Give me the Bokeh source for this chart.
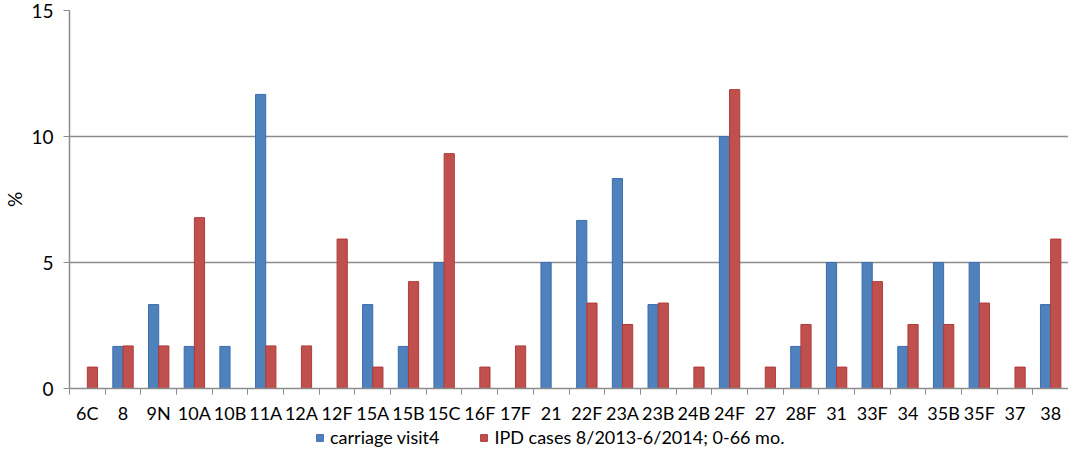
from bokeh.plotting import figure
from bokeh.layouts import column
from bokeh.models import ColumnDataSource, FixedTicker, Legend, LegendItem, Range1d
from bokeh.embed import file_html
from bokeh.resources import INLINE

categories = ["6C", "8", "9N", "10A", "10B", "11A", "12A", "12F", "15A", "15B", "15C",
              "16F", "17F", "21", "22F", "23A", "23B", "24B", "24F", "27", "28F", "31",
              "33F", "34", "35B", "35F", "37", "38"]
carriage = [0, 1.67, 3.33, 1.67, 1.67, 11.67, 0, 0, 3.33, 1.67, 5.0,
            0, 0, 5.0, 6.67, 8.33, 3.33, 0, 10.0, 0, 1.67, 5.0,
            5.0, 1.67, 5.0, 5.0, 0, 3.33]
ipd = [0.85, 1.69, 1.69, 6.78, 0, 1.69, 1.69, 5.93, 0.85, 4.24, 9.32,
       0.85, 1.69, 0, 3.39, 2.54, 3.39, 0.85, 11.86, 0.85, 2.54, 0.85,
       4.24, 2.54, 2.54, 3.39, 0.85, 5.93]
series_names = ["carriage visit4", "IPD cases 8/2013-6/2014; 0-66 mo."]
y_ticks = [0, 5, 10, 15]

FONT = "Lato"
BLUE, BLUE_LINE = "#4F81BD", "#3C6DAE"
RED, RED_LINE = "#C0504D", "#B03B39"
GRID = "#8C8C8C"
LEFT = 59

n = len(categories)
centers = [i + 0.5 for i in range(n)]
bar_w = 1 / 3.5

src = ColumnDataSource(dict(
    xb=[c - bar_w / 2 for c in centers],
    xr=[c + bar_w / 2 for c in centers],
    carriage=carriage, ipd=ipd))

p = figure(width=1068, height=426, output_backend="svg", toolbar_location=None,
           x_range=Range1d(0, n), y_range=Range1d(0, 15),
           min_border_left=LEFT, min_border_right=0, min_border_top=10, min_border_bottom=38)
p.outline_line_color = None
p.background_fill_color = "white"
p.border_fill_color = "white"

rb = p.vbar(x="xb", top="carriage", width=bar_w, source=src,
            fill_color=BLUE, line_color=BLUE_LINE, line_width=1)
rr = p.vbar(x="xr", top="ipd", width=bar_w, source=src,
            fill_color=RED, line_color=RED_LINE, line_width=1)

# x axis: labels at centers, tick marks at category boundaries
xa = p.xaxis[0]
xa.ticker = FixedTicker(ticks=centers, minor_ticks=list(range(n + 1)))
xa.major_label_overrides = {c: lab for c, lab in zip(centers, categories)}
xa.major_tick_out = 0
xa.major_tick_in = 0
xa.minor_tick_out = 6
xa.minor_tick_in = 0
xa.minor_tick_line_color = GRID
xa.axis_line_color = GRID
xa.axis_line_width = 1.5
xa.major_label_text_font = FONT
xa.major_label_text_font_size = "18px"
xa.major_label_text_color = "black"
xa.major_label_standoff = 7

ya = p.yaxis[0]
ya.ticker = FixedTicker(ticks=y_ticks, minor_ticks=[])
ya.major_tick_out = 6
ya.major_tick_in = 0
ya.minor_tick_out = 0
ya.minor_tick_in = 0
ya.major_tick_line_color = GRID
ya.axis_line_color = GRID
ya.axis_line_width = 1.5
ya.major_label_text_font = FONT
ya.major_label_text_font_size = "19px"
ya.major_label_text_color = "black"
ya.major_label_standoff = 10
ya.axis_label = "%"
ya.axis_label_text_font = FONT
ya.axis_label_text_font_size = "19px"
ya.axis_label_text_font_style = "normal"
ya.axis_label_text_color = "black"
ya.axis_label_standoff = 2

p.xgrid.grid_line_color = None
p.ygrid.ticker = FixedTicker(ticks=y_ticks[1:])
p.ygrid.grid_line_color = GRID
p.ygrid.grid_line_width = 1.5

# legend strip below the chart (frames of a column are aligned, so x is relative to LEFT)
lg = figure(width=1068, height=22, output_backend="svg", toolbar_location=None,
            x_range=Range1d(0, 1), y_range=Range1d(0, 1),
            min_border_left=0, min_border_right=0, min_border_top=0, min_border_bottom=0)
lg.axis.visible = False
lg.grid.visible = False
lg.outline_line_color = None
offscreen = ColumnDataSource(dict(x=[-5], y=[-5]))
lb = lg.scatter(x="x", y="y", marker="square", size=14, source=offscreen,
                fill_color=BLUE, line_color=BLUE_LINE)
lr = lg.scatter(x="x", y="y", marker="square", size=14, source=offscreen,
                fill_color=RED, line_color=RED_LINE)
legend = Legend(items=[LegendItem(label=series_names[0], renderers=[lb]),
                       LegendItem(label=series_names[1], renderers=[lr])],
                orientation="horizontal", location=(301 - LEFT, 0),
                glyph_width=17, glyph_height=17, label_standoff=2, spacing=36,
                label_height=20, label_text_baseline="middle",
                label_text_font=FONT, label_text_font_size="18px",
                label_text_color="black", border_line_color=None,
                background_fill_alpha=0, padding=0, margin=0)
lg.add_layout(legend, "center")

open("out.html", "w").write(file_html(column(p, lg, spacing=0), INLINE))
